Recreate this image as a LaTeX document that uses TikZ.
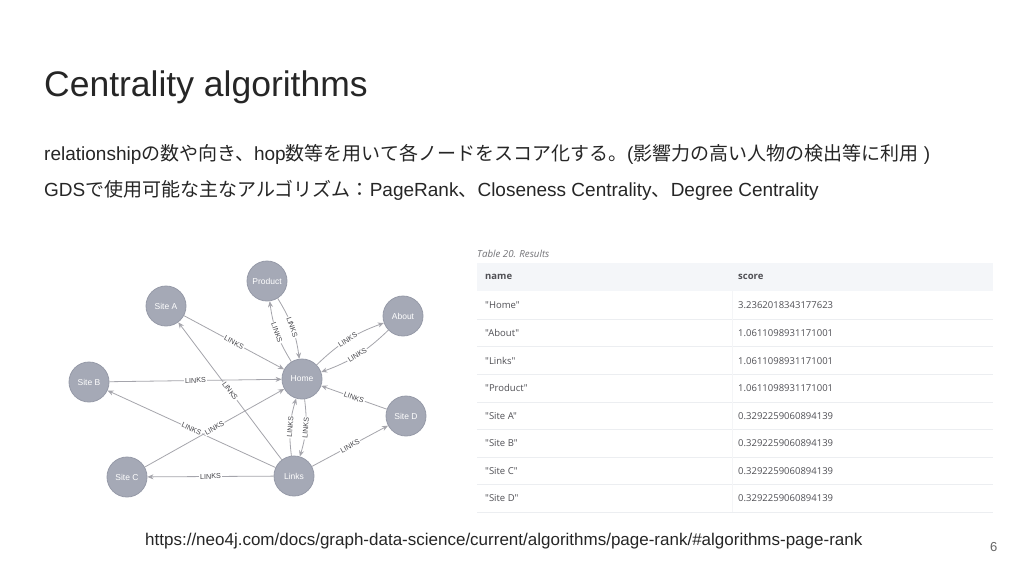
\documentclass[tikz,border=0pt]{standalone}
\usepackage{fontspec}
\setmainfont{Liberation Sans}
\newfontfamily\jpfont{Noto Sans CJK JP}
\newfontfamily\tabfont{Open Sans}
\usetikzlibrary{arrows.meta, positioning}
\definecolor{nodecolor}{RGB}{165,169,182}
\definecolor{nodeborder}{RGB}{150,154,168}
\definecolor{edgecolor}{RGB}{165,165,172}
\definecolor{labelcolor}{RGB}{70,70,75}
\definecolor{headercolor}{RGB}{244,246,249}
\definecolor{rulecolor}{RGB}{236,238,241}
\definecolor{celltext}{RGB}{80,80,85}
\definecolor{bodytext}{RGB}{38,38,38}
\tikzset{
    % Graph styles
    graphnode/.style={
        circle, fill=nodecolor, draw=nodeborder, line width=0.8pt,
        minimum size=40pt, inner sep=0pt, text=white,
        font=\fontsize{8.5}{10}\selectfont
    },
    linkarrow/.style={-{Stealth[length=6pt, width=5pt]}, edgecolor, line width=0.8pt},
    linklabel/.style={
        midway, sloped, fill=white, inner sep=1pt, text=labelcolor,
        font=\fontsize{7.2}{8}\selectfont
    },
    % Text styles
    slidetext/.style={anchor=base west, inner sep=0pt, text=bodytext},
    % Table styles
    cell/.style={anchor=west, inner sep=0pt, text=celltext, font=\tabfont\fontsize{9.5}{11}\selectfont},
    headcell/.style={cell, font=\tabfont\bfseries\fontsize{9.5}{11}\selectfont},
}

\begin{document}
\begin{tikzpicture}[x=1pt, y=-1pt]

\useasboundingbox[fill=white] (0,0) rectangle (1024,576);

% Title and description
\node[slidetext, font=\fontsize{35.5}{40}\selectfont] (title) at (44,96) {Centrality algorithms};
\node[slidetext, font=\fontsize{19}{22}\selectfont] (desc) at (44,160)
    {relationship{\jpfont の数や向き、}hop{\jpfont 数等を用いて各ノードをスコア化する。}({\jpfont 影響力の高い人物の検出等に利用} )};
\node[slidetext, font=\fontsize{19}{22}\selectfont] (algos) at (44,196)
    {GDS{\jpfont で使用可能な主なアルゴリズム：}PageRank{\jpfont 、}Closeness Centrality{\jpfont 、}Degree Centrality};

% Graph nodes
\node[graphnode] (product) at (267,281) {Product};
\node[graphnode] (sitea) at (166,306) {Site A};
\node[graphnode] (about) at (403,316) {About};
\node[graphnode] (siteb) at (89,382) {Site B};
\node[graphnode] (home) at (302,379) {Home};
\node[graphnode] (sited) at (406,416) {Site D};
\node[graphnode] (sitec) at (127,477) {Site C};
\node[graphnode] (links) at (294,476) {Links};

% Graph edges
\draw[linkarrow] (sitea) -- (home) node[linklabel] {LINKS};
\draw[linkarrow] (links) -- (sitea) node[linklabel] {LINKS};
\draw[linkarrow] (siteb) -- (home) node[linklabel] {LINKS};
\draw[linkarrow] (links) -- (siteb) node[linklabel] {LINKS};
\draw[linkarrow] (sitec) -- (home) node[linklabel] {LINKS};
\draw[linkarrow] (links) -- (sitec) node[linklabel] {LINKS};
\draw[linkarrow] (home) to[bend left=12] node[linklabel] {LINKS} (product);
\draw[linkarrow] (product) to[bend left=12] node[linklabel] {LINKS} (home);
\draw[linkarrow] (home) to[bend left=12] node[linklabel] {LINKS} (about);
\draw[linkarrow] (about) to[bend left=12] node[linklabel] {LINKS} (home);
\draw[linkarrow] (links) to[bend left=12] node[linklabel] {LINKS} (home);
\draw[linkarrow] (home) to[bend left=12] node[linklabel] {LINKS} (links);
\draw[linkarrow] (sited) -- (home) node[linklabel] {LINKS};
\draw[linkarrow] (links) -- (sited) node[linklabel] {LINKS};

% Results table
\node[anchor=west, inner sep=0pt, text=celltext!80, font=\tabfont\itshape\fontsize{9.7}{11}\selectfont] (caption) at (477,254) {Table 20. Results};
\fill[headercolor] (477,263) rectangle (993,291);
\draw[rulecolor, line width=0.8pt]
    (477,319) -- (993,319) (477,346) -- (993,346) (477,374) -- (993,374)
    (477,402) -- (993,402) (477,429) -- (993,429) (477,457) -- (993,457)
    (477,484) -- (993,484) (477,512) -- (993,512);
\draw[rulecolor!60, line width=0.5pt] (732,291) -- (732,512);

\node[headcell] (hdname) at (485,277) {name};
\node[headcell] (hdscore) at (738,277) {score};
\node[cell] (namehome) at (485,305) {"Home"};
\node[cell] (scorehome) at (738,305) {3.2362018343177623};
\node[cell] (nameabout) at (485,333) {"About"};
\node[cell] (scoreabout) at (738,333) {1.0611098931171001};
\node[cell] (namelinks) at (485,361) {"Links"};
\node[cell] (scorelinks) at (738,361) {1.0611098931171001};
\node[cell] (nameproduct) at (485,388) {"Product"};
\node[cell] (scoreproduct) at (738,388) {1.0611098931171001};
\node[cell] (namesitea) at (485,416) {"Site A"};
\node[cell] (scoresitea) at (738,416) {0.3292259060894139};
\node[cell] (namesiteb) at (485,443) {"Site B"};
\node[cell] (scoresiteb) at (738,443) {0.3292259060894139};
\node[cell] (namesitec) at (485,471) {"Site C"};
\node[cell] (scoresitec) at (738,471) {0.3292259060894139};
\node[cell] (namesited) at (485,498) {"Site D"};
\node[cell] (scoresited) at (738,498) {0.3292259060894139};

% Source and page number
\node[slidetext, font=\fontsize{17}{20}\selectfont] (source) at (145,545)
    {https://neo4j.com/docs/graph-data-science/current/algorithms/page-rank/\#algorithms-page-rank};
\node[slidetext, text=black!60, font=\fontsize{13}{15}\selectfont] (pagenum) at (990,551) {6};

\end{tikzpicture}
\end{document}
